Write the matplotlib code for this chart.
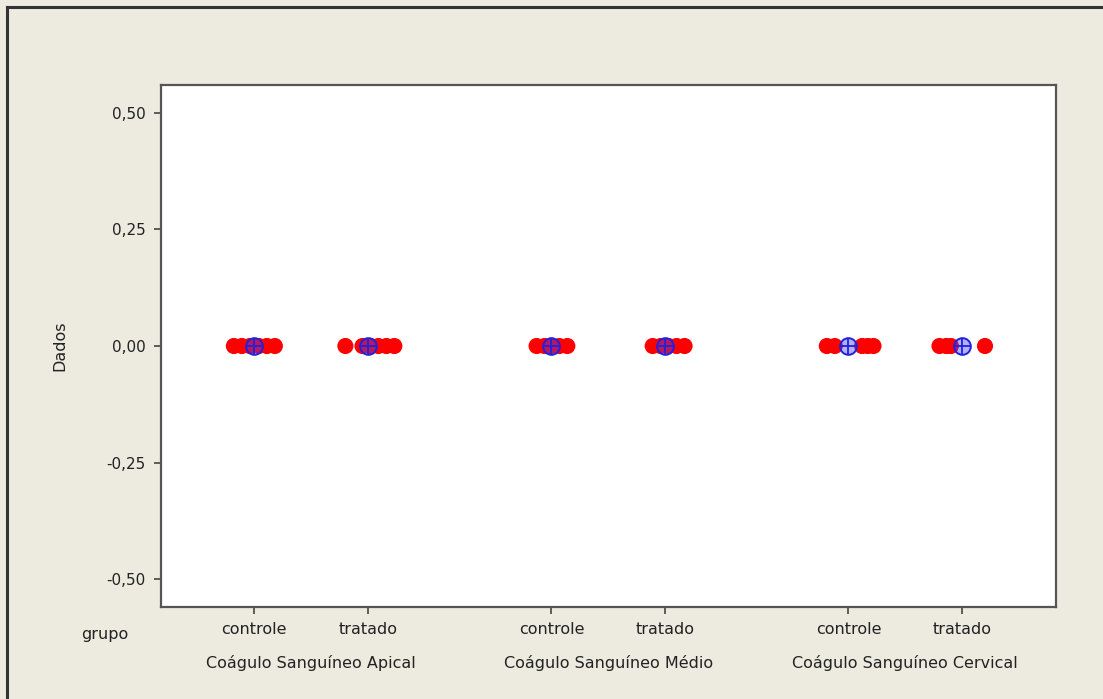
import numpy as np
import matplotlib.pyplot as plt

# grupos (tratamento x local)
grupos = ["controle", "tratado", "controle", "tratado", "controle", "tratado"]
locais = ["Coágulo Sanguíneo Apical", "Coágulo Sanguíneo Médio", "Coágulo Sanguíneo Cervical"]

# dados individuais por grupo
dados = [
    [0.0, 0.0, 0.0, 0.0, 0.0, 0.0],
    [0.0, 0.0, 0.0, 0.0, 0.0, 0.0],
    [0.0, 0.0, 0.0, 0.0, 0.0],
    [0.0, 0.0, 0.0, 0.0, 0.0],
    [0.0, 0.0, 0.0, 0.0, 0.0],
    [0.0, 0.0, 0.0, 0.0],
]

# deslocamento horizontal dos pontos (jitter) em cada grupo
jitter = [
    [-0.18, -0.11, -0.04, 0.04, 0.11, 0.18],
    [-0.20, -0.05, 0.02, 0.09, 0.16, 0.23],
    [-0.13, -0.06, 0.00, 0.07, 0.14],
    [-0.11, -0.04, 0.03, 0.10, 0.17],
    [-0.19, -0.12, 0.12, 0.17, 0.22],
    [-0.20, -0.14, -0.10, 0.20],
]

posicoes = [0, 1, 2.61, 3.61, 5.22, 6.22]
fundo = "#EDEAE0"

fig = plt.figure(figsize=(11.03, 6.99), dpi=100, facecolor=fundo)
ax = fig.add_axes([0.146, 0.1316, 0.811, 0.7468])
ax.set_facecolor("white")

for x, vals, dx in zip(posicoes, dados, jitter):
    ax.scatter(np.array(dx) + x, vals, s=135, color="#FF0000", edgecolors="none", zorder=2)
    media = np.mean(vals)
    ax.plot(x, media, marker="o", ms=12, mfc=(0.25, 0.25, 0.95, 0.4), mec="#2020E0", mew=1.4, zorder=3)
    ax.plot(x, media, marker="+", ms=12, mec="#2020E0", mew=1.3, zorder=3)

ax.set_xlim(-0.82, 7.04)
ax.set_ylim(-0.56, 0.56)
ax.set_yticks([-0.5, -0.25, 0, 0.25, 0.5])
ax.set_yticklabels(["-0,50", "-0,25", "0,00", "0,25", "0,50"], fontsize=11)
ax.set_xticks(posicoes)
ax.set_xticklabels(grupos, fontsize=11.5)
ax.tick_params(axis="both", length=5, width=1.2, color="#444444", pad=6, labelcolor="#222222")
ax.set_ylabel("Dados", fontsize=11.5, color="#222222", labelpad=28)

for s in ax.spines.values():
    s.set_color("#555555")
    s.set_linewidth(1.6)

# segunda linha dos rótulos: local
for i, nome in enumerate(locais):
    xc = (posicoes[2 * i] + posicoes[2 * i + 1]) / 2
    ax.text(xc, -0.107, nome, transform=ax.get_xaxis_transform(), ha="center", va="center",
            fontsize=11.5, color="#222222")

fig.text(105 / 1103, 1 - 635 / 699, "grupo", ha="center", va="center", fontsize=11.5, color="#222222")

# moldura externa
fig.add_artist(plt.Line2D([7 / 1103, 7 / 1103], [0, 1 - 7 / 699], transform=fig.transFigure,
                          color="#333333", lw=2.2))
fig.add_artist(plt.Line2D([7 / 1103, 1], [1 - 7 / 699, 1 - 7 / 699], transform=fig.transFigure,
                          color="#333333", lw=2.2))

fig.savefig("out.png", dpi=100, facecolor=fundo)
